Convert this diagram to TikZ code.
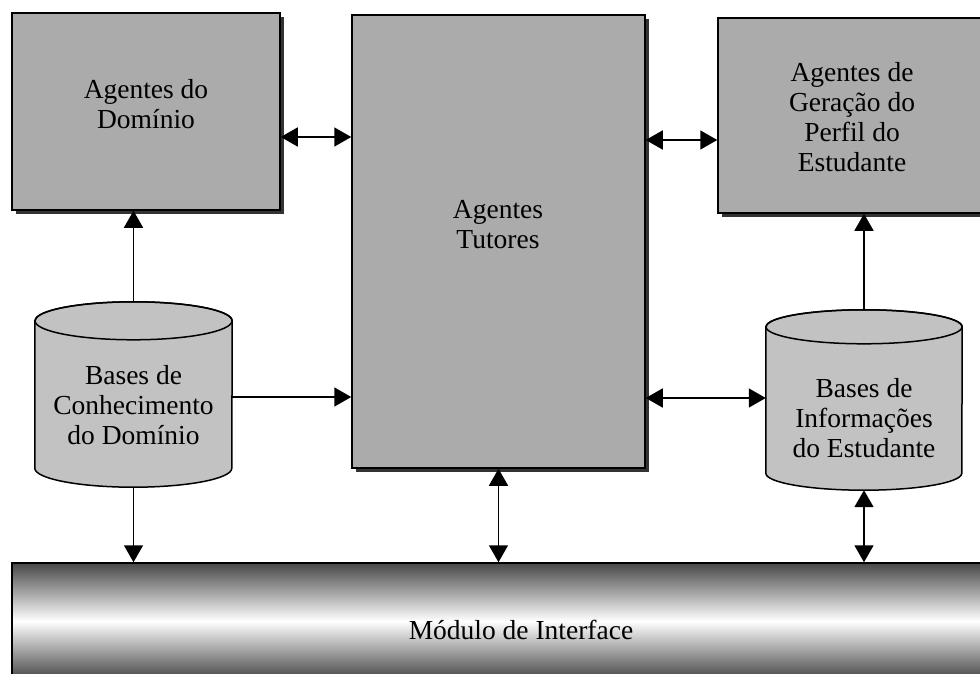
\documentclass[tikz,border=0pt]{standalone}
\usepackage{fontspec}
\setmainfont{Liberation Serif}
\usetikzlibrary{arrows.meta,shadows,calc}

% outline of a cylinder around node #1: #2 half width, #3 cap radius
\newcommand\cylpath[3]{%
  ([yshift=-#3]#1.north west)
    -- ([yshift=#3]#1.south west)
    arc[start angle=180,end angle=360,x radius=#2,y radius=#3]
    -- ([yshift=-#3]#1.north east)
    arc[start angle=0,end angle=180,x radius=#2,y radius=#3] -- cycle}
% shadow, body and top cap of the cylinder
\newcommand\drawcyl[3]{%
  \begin{scope}[shift={(4pt,-4pt)}]
    \path[fill=black!80] \cylpath{#1}{#2}{#3};
  \end{scope}
  \path[cylfill] \cylpath{#1}{#2}{#3};
  \draw[line width=1.5pt] ([yshift=-#3]#1.north) ellipse[x radius=#2,y radius=#3];
}

\begin{document}
\begin{tikzpicture}[x=1pt,y=1pt,
  box/.style={draw=black,line width=1.5pt,fill=black!33,inner sep=0pt,
    drop shadow={shadow xshift=4pt,shadow yshift=-4pt,fill=black!80,opacity=1}},
  cylnode/.style={draw=none,fill=none,inner sep=0pt},
  cylfill/.style={draw=black,line width=1.5pt,fill=black!24},
  lbl/.style={font=\fontsize{27.5}{30}\selectfont,align=center,inner sep=0pt},
  conn/.style={line width=1.6pt,-{Triangle[length=17pt,width=19pt]}},
  conn2/.style={line width=1.6pt,{Triangle[length=17pt,width=19pt]}-{Triangle[length=17pt,width=19pt]}}]

\clip (0,0) rectangle (980,-674);
\fill[white] (0,0) rectangle (980,-674);

% agent boxes
\node[box,minimum width=268pt,minimum height=197pt] (dom) at (146,-111.5) {};
\node[box,minimum width=293pt,minimum height=453pt] (tut) at (498.5,-241.5) {};
\node[box,minimum width=282pt,minimum height=195pt] (pgp) at (859,-115.5) {};

% interface bar
\node[draw=black,line width=1.5pt,inner sep=0pt,minimum width=988pt,minimum height=116pt,
  top color=black!72,bottom color=black!72,middle color=white] (ifc) at (506,-621) {};

% knowledge bases
\node[cylnode,minimum width=197pt,minimum height=185pt] (kb) at (133.5,-394.5) {};
\drawcyl{kb}{98.5pt}{19pt}
\node[cylnode,minimum width=196pt,minimum height=180pt] (si) at (864,-400) {};
\drawcyl{si}{98pt}{17pt}

% labels
\node[lbl] (domt) at (146,-104) {Agentes do\\Domínio};
\node[lbl] (tutt) at (498,-225) {Agentes\\Tutores};
\node[lbl] (pgpt) at (852,-117) {Agentes de\\Geração do\\Perfil do\\Estudante};
\node[lbl] (kbt) at (133.5,-405) {Bases de\\Conhecimento\\do Domínio};
\node[lbl] (sit) at (864,-418) {Bases de\\Informações\\do Estudante};
\node[lbl] (ifct) at (521,-630) {Módulo de Interface};

% connectors
\coordinate (p1) at ([yshift=-25.5pt]dom.east);
\draw[conn2] (p1) -- (p1 -| tut.west);
\coordinate (p2) at ([yshift=-24.5pt]pgp.west);
\draw[conn2] (p2 -| tut.east) -- (p2);
\draw[conn] (kb.north) -- (kb.north |- dom.south);
\coordinate (p3) at ([yshift=-2.5pt]kb.east);
\draw[conn] (p3) -- (p3 -| tut.west);
\draw[conn] (kb.south) -- (kb.south |- ifc.north);
\draw[conn2] (tut.south) -- (tut.south |- ifc.north);
\coordinate (p4) at ([yshift=2pt]si.west);
\draw[conn2] (p4 -| tut.east) -- (p4);
\draw[conn] (si.north) -- (si.north |- pgp.south);
\draw[conn2] (si.south) -- (si.south |- ifc.north);
\end{tikzpicture}
\end{document}
